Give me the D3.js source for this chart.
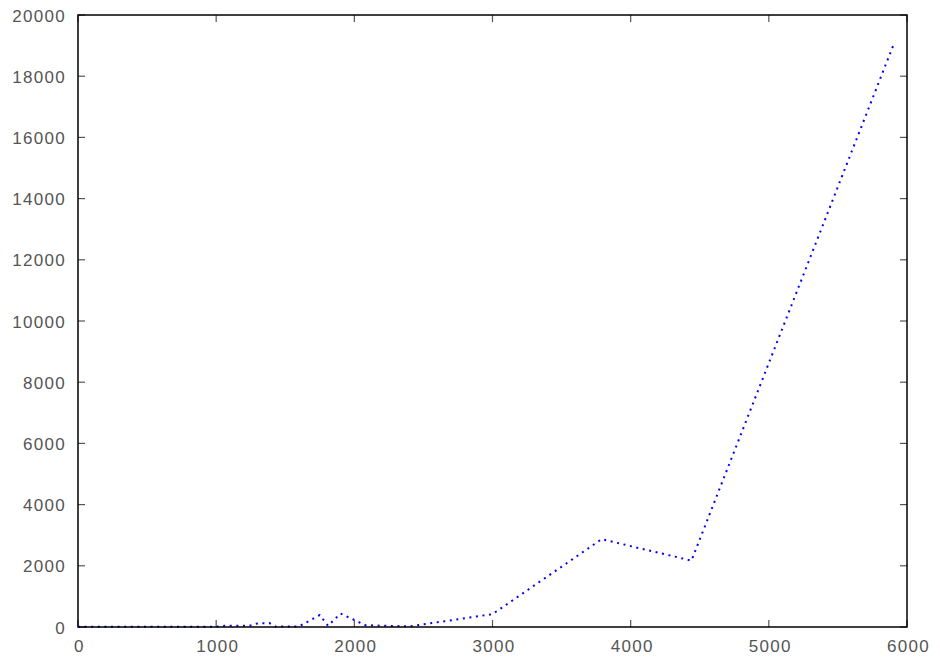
<!DOCTYPE html>
<html>
<head>
<meta charset="utf-8">
<script src="https://cdn.jsdelivr.net/npm/d3@7"></script>
<style>
  html, body { margin: 0; padding: 0; background: #fff; }
  svg text { font-family: "Liberation Sans", Arial, sans-serif; font-size: 17px; fill: #555; letter-spacing: 1.3px; }
</style>
</head>
<body>
<svg id="chart" width="940" height="660"></svg>
<script>
// Series: x positions and measured values
const xValues = [0, 1000, 1060, 1240, 1290, 1385, 1430, 1600, 1750, 1810, 1900, 2080, 2200, 2400, 3000, 3790, 4440, 5900];
const yValues = [10, 10, 40, 40, 110, 130, 10, 20, 390, 40, 440, 60, 40, 20, 420, 2870, 2170, 19000];

// Tick labels
const xTicks = [0, 1000, 2000, 3000, 4000, 5000, 6000];
const yTicks = [0, 2000, 4000, 6000, 8000, 10000, 12000, 14000, 16000, 18000, 20000];

const svg = d3.select("#chart");
const plotLeft = 78, plotRight = 907, plotTop = 15, plotBottom = 627;

const x = d3.scaleLinear().domain([0, 6000]).range([plotLeft, plotRight]);
const y = d3.scaleLinear().domain([0, 20000]).range([plotBottom, plotTop]);

const tickLen = 7;

// Inward ticks on all four sides
const ticks = svg.append("g").attr("stroke", "#555").attr("stroke-width", 1.2);
xTicks.forEach(t => {
  ticks.append("line").attr("x1", x(t)).attr("x2", x(t)).attr("y1", plotBottom).attr("y2", plotBottom - tickLen);
  ticks.append("line").attr("x1", x(t)).attr("x2", x(t)).attr("y1", plotTop).attr("y2", plotTop + tickLen);
});
yTicks.forEach(t => {
  ticks.append("line").attr("x1", plotLeft).attr("x2", plotLeft + tickLen).attr("y1", y(t)).attr("y2", y(t));
  ticks.append("line").attr("x1", plotRight).attr("x2", plotRight - tickLen).attr("y1", y(t)).attr("y2", y(t));
});

// Labels (trailing letter-spacing compensated)
svg.append("g").selectAll("text").data(xTicks).join("text")
  .attr("x", d => x(d) + 1.5)
  .attr("y", plotBottom + 24.5)
  .attr("text-anchor", "middle")
  .text(d => d);

svg.append("g").selectAll("text").data(yTicks).join("text")
  .attr("x", plotLeft - 12)
  .attr("y", d => y(d) + 6.5)
  .attr("text-anchor", "end")
  .text(d => d);

// Data line
const pts = xValues.map((v, i) => [v, yValues[i]]);
svg.append("path")
  .datum(pts)
  .attr("fill", "none")
  .attr("stroke", "#0000ff")
  .attr("stroke-width", 2)
  .attr("stroke-dasharray", "2,4.6")
  .attr("d", d3.line().x(d => x(d[0])).y(d => y(d[1])));

// Frame
svg.append("rect")
  .attr("x", plotLeft).attr("y", plotTop)
  .attr("width", plotRight - plotLeft).attr("height", plotBottom - plotTop)
  .attr("fill", "none").attr("stroke", "#000").attr("stroke-width", 1.5);
</script>
</body>
</html>
